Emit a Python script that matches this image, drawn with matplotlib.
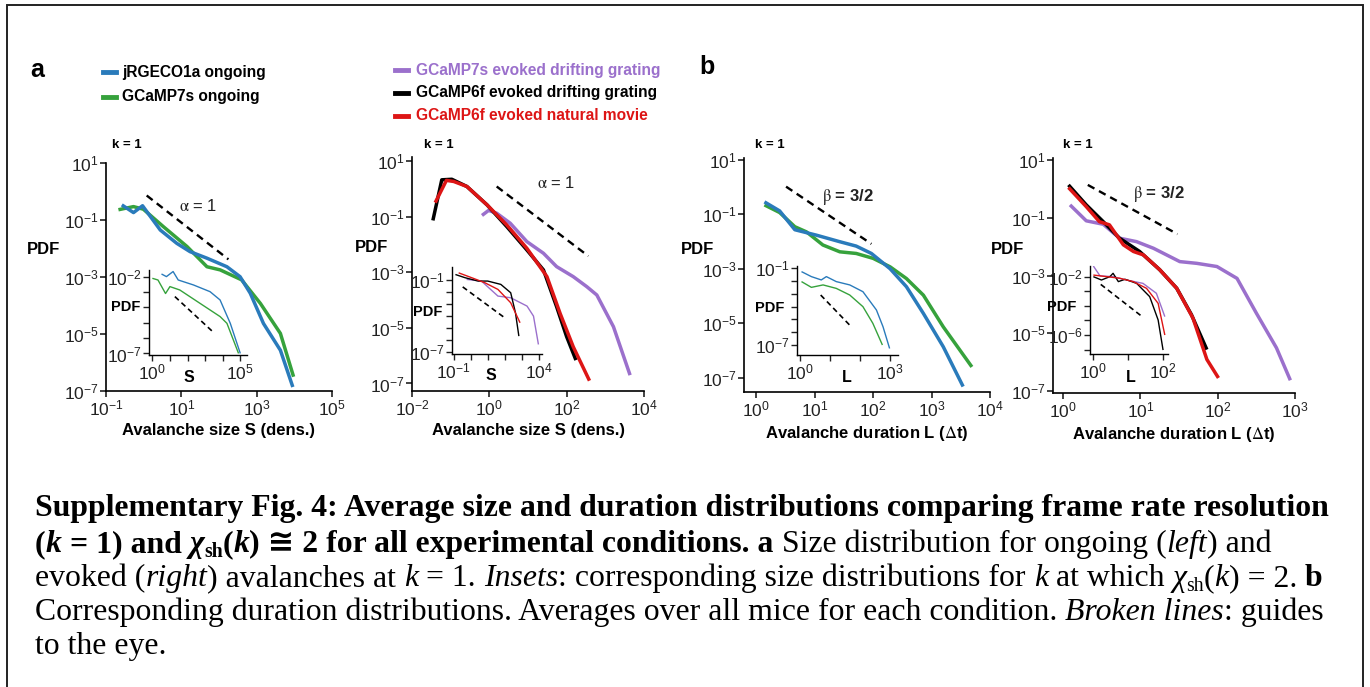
import numpy as np
import matplotlib.pyplot as plt
from matplotlib.lines import Line2D
from matplotlib.patches import Rectangle

plt.rcParams['font.family'] = ['Liberation Sans', 'DejaVu Sans']
plt.rcParams['mathtext.fontset'] = 'custom'
plt.rcParams['mathtext.rm'] = 'Liberation Sans'
plt.rcParams['mathtext.it'] = 'Liberation Sans:italic'
plt.rcParams['mathtext.bf'] = 'Liberation Sans:bold'

W, H = 1370, 687
SANS = ['Liberation Sans', 'DejaVu Sans']
SERIF = ['Liberation Serif', 'DejaVu Sans', 'DejaVu Serif']

BLUE = '#2a7bbb'
GREEN = '#36a23c'
PURPLE = '#9b70cc'
RED = '#dd1515'
BLACK = '#000000'

# all curve values are log10 of the plotted quantity

# a (left): size, ongoing, k = 1
a_blue_x = [-0.58, -0.27, -0.03, 0.44, 0.88, 1.23, 1.68, 2.21, 2.56, 2.83, 3.18, 3.63, 3.96]
a_blue_y = [-0.47, -0.74, -0.50, -1.35, -1.82, -2.11, -2.34, -2.64, -2.99, -3.57, -4.63, -5.57, -6.86]
a_green_x = [-0.67, -0.27, -0.01, 0.52, 1.15, 1.68, 2.03, 2.60, 3.10, 3.63, 3.98]
a_green_y = [-0.64, -0.53, -0.62, -1.23, -1.93, -2.64, -2.75, -3.10, -3.93, -4.98, -6.50]
a_guide_x = [0.08, 2.25]
a_guide_y = [-0.14, -2.38]
# a (left) inset
ia_blue_x = [0.52, 0.80, 1.18, 1.47, 2.33, 3.28, 3.85, 4.43, 5.00]
ia_blue_y = [-1.83, -2.00, -1.67, -2.22, -2.54, -2.98, -3.52, -5.04, -7.00]
ia_green_x = [0.00, 0.32, 0.75, 1.00, 1.56, 2.71, 3.85, 4.24, 4.90]
ia_green_y = [-2.11, -2.22, -3.10, -2.65, -2.87, -3.74, -4.60, -5.04, -7.00]
ia_guide_x = [1.28, 3.43]
ia_guide_y = [-3.30, -5.58]

# a (right): size, evoked, k = 1
b_black_x = [-1.46, -1.23, -0.97, -0.58, -0.06, 0.45, 0.97, 1.40, 1.74, 2.00, 2.24]
b_black_y = [-1.14, 0.32, 0.34, 0.08, -0.58, -1.36, -2.20, -2.92, -4.24, -5.32, -6.16]
b_red_x = [-1.40, -1.11, -0.92, -0.58, -0.06, 0.45, 0.97, 1.49, 1.83, 2.17, 2.59]
b_red_y = [-0.50, 0.30, 0.26, 0.08, -0.58, -1.30, -2.14, -3.16, -4.48, -5.68, -6.90]
b_purple_x = [-0.19, -0.02, 0.19, 0.54, 0.97, 1.40, 1.74, 2.17, 2.52, 2.78, 3.21, 3.64]
b_purple_y = [-0.96, -0.78, -0.88, -1.24, -1.90, -2.32, -2.80, -3.16, -3.52, -3.82, -4.96, -6.70]
b_guide_x = [0.19, 2.56]
b_guide_y = [0.08, -2.42]
ib_black_x = [-0.90, -0.33, 0.44, 1.00, 1.77, 2.35, 2.63, 2.83]
ib_black_y = [-0.53, -0.80, -1.08, -1.08, -1.36, -2.06, -3.74, -5.70]
ib_red_x = [-0.71, 0.06, 0.83, 1.60, 2.35, 2.90]
ib_red_y = [-0.39, -0.80, -1.22, -1.78, -2.90, -4.58]
ib_purple_x = [-0.24, 0.63, 1.60, 2.35, 3.31, 3.69, 3.98]
ib_purple_y = [-0.94, -1.08, -2.34, -2.48, -3.18, -4.02, -6.40]
ib_guide_x = [-0.47, 1.92]
ib_guide_y = [-1.57, -4.08]

# b (left): duration, ongoing
c_blue_x = [0.14, 0.40, 0.66, 1.03, 1.43, 1.71, 1.97, 2.29, 2.57, 2.86, 3.20, 3.54]
c_blue_y = [-0.55, -0.88, -1.57, -1.77, -2.01, -2.17, -2.44, -3.00, -3.66, -4.64, -5.86, -7.32]
c_green_x = [0.14, 0.40, 0.66, 0.86, 1.14, 1.43, 1.71, 2.00, 2.29, 2.57, 2.86, 3.20, 3.69]
c_green_y = [-0.66, -0.94, -1.46, -1.65, -2.13, -2.38, -2.44, -2.62, -2.93, -3.36, -3.97, -5.13, -6.60]
c_guide_x = [0.51, 1.97]
c_guide_y = [0.01, -2.09]
ic_blue_x = [0.06, 0.39, 0.72, 0.89, 1.22, 1.67, 2.11, 2.56, 2.78, 3.00]
ic_blue_y = [-1.26, -1.65, -1.91, -1.65, -2.04, -2.30, -2.83, -4.26, -5.57, -7.27]
ic_green_x = [0.06, 0.39, 0.78, 1.22, 1.67, 2.11, 2.44, 2.76]
ic_green_y = [-2.04, -2.49, -2.30, -2.57, -3.09, -4.00, -5.30, -7.00]
ic_guide_x = [0.70, 1.72]
ic_guide_y = [-3.09, -5.57]

# b (right): duration, evoked
d_black_x = [0.07, 0.30, 0.52, 0.73, 0.99, 1.25, 1.47, 1.66, 1.86]
d_black_y = [0.13, -0.56, -1.14, -1.71, -2.17, -2.80, -3.44, -4.35, -5.56]
d_red_x = [0.07, 0.30, 0.47, 0.60, 0.78, 0.91, 1.04, 1.25, 1.47, 1.68, 1.86, 2.01]
d_red_y = [0.04, -0.62, -1.14, -1.25, -1.94, -2.17, -2.29, -2.80, -3.44, -4.47, -5.90, -6.54]
d_purple_x = [0.09, 0.30, 0.52, 0.73, 0.95, 1.17, 1.51, 1.73, 1.99, 2.25, 2.50, 2.76, 2.94]
d_purple_y = [-0.56, -1.11, -1.23, -1.71, -1.83, -2.06, -2.52, -2.58, -2.69, -3.10, -4.30, -5.50, -6.62]
d_guide_x = [0.32, 1.48]
d_guide_y = [0.13, -1.57]
id_purple_x = [0.02, 0.21, 0.58, 0.96, 1.43, 1.81, 2.05]
id_purple_y = [-1.27, -1.95, -2.00, -2.23, -2.46, -3.14, -4.74]
id_black_x = [0.02, 0.25, 0.49, 0.58, 0.73, 0.92, 1.25, 1.62, 1.86, 2.00]
id_black_y = [-2.00, -2.23, -2.00, -1.77, -2.34, -2.18, -2.46, -3.37, -4.97, -7.03]
id_red_x = [0.02, 0.40, 0.77, 1.15, 1.53, 1.86, 2.05]
id_red_y = [-1.89, -2.00, -2.11, -2.34, -2.80, -3.83, -6.00]
id_guide_x = [0.23, 1.37]
id_guide_y = [-2.53, -4.67]

legend_a = ['jRGECO1a ongoing', 'GCaMP7s ongoing']
legend_b = ['GCaMP7s evoked drifting grating', 'GCaMP6f evoked drifting grating',
            'GCaMP6f evoked natural movie']


fig = plt.figure(figsize=(W / 100, H / 100), dpi=100)
fig.patch.set_facecolor('white')


def px_axes(l, t, r, b):
    return fig.add_axes([l / W, 1 - b / H, (r - l) / W, (b - t) / H])


def ftext(x, y, s, **kw):
    return fig.text(x / W, 1 - y / H, s, **kw)


def fmt(e):
    return r'$\mathdefault{10^{%d}}$' % e


def setup(ax, xlim, ylim, xt, xl, yt, yl, size=12.5, lw=1.2):
    ax.set_xscale('log')
    ax.set_yscale('log')
    ax.set_xlim(10.0 ** xlim[0], 10.0 ** xlim[1])
    ax.set_ylim(10.0 ** ylim[0], 10.0 ** ylim[1])
    ax.set_xticks([10.0 ** e for e in xt])
    ax.set_xticklabels([fmt(e) if e in xl else '' for e in xt])
    ax.set_yticks([10.0 ** e for e in yt])
    ax.set_yticklabels([fmt(e) if e in yl else '' for e in yt])
    ax.minorticks_off()
    for s in ['top', 'right']:
        ax.spines[s].set_visible(False)
    for s in ['left', 'bottom']:
        ax.spines[s].set_linewidth(lw)
    ax.tick_params(length=4, width=lw, labelsize=size, pad=1.5, colors='#222222')
    ax.patch.set_alpha(0)


def curve(ax, x, y, c, lw=2.5):
    ax.plot(10.0 ** np.array(x), 10.0 ** np.array(y), color=c, lw=lw,
            solid_joinstyle='round', solid_capstyle='butt')


def guide(ax, x, y, lw=1.7):
    ax.plot(10.0 ** np.array(x), 10.0 ** np.array(y), color='black', lw=lw,
            ls=(0, (3.2, 2.2)))


def slope_label(ax, x, y, s, bold):
    ax.text(10.0 ** x, 10.0 ** y, s, fontsize=12, math_fontfamily='stix',
            weight='bold' if bold else 'normal', ha='center', va='center', color='#222222')


XLAB = dict(weight='bold', fontsize=12, labelpad=3, math_fontfamily='stix')

# ---- panel a left
ax1 = px_axes(106, 163, 332, 391)
setup(ax1, (-1, 5), (-7, 1), [-1, 1, 3, 5], [-1, 1, 3, 5], [1, -1, -3, -5, -7], [1, -1, -3, -5, -7])
curve(ax1, a_green_x, a_green_y, GREEN)
curve(ax1, a_blue_x, a_blue_y, BLUE)
guide(ax1, a_guide_x, a_guide_y)
slope_label(ax1, 1.46, -0.52, r'$\mathrm{\alpha}$ = 1', False)
ax1.set_xlabel('Avalanche size S (dens.)', **XLAB)

in1 = px_axes(149, 270, 247, 355)
setup(in1, (-0.19, 5.38), (-7.1, -1.57), [0, 1, 2, 3, 4, 5], [0, 5], [-2, -3, -4, -5, -6, -7], [-2, -7], lw=1.0)
curve(in1, ia_green_x, ia_green_y, GREEN, lw=1.0)
curve(in1, ia_blue_x, ia_blue_y, BLUE, lw=1.0)
guide(in1, ia_guide_x, ia_guide_y, lw=1.2)

# ---- panel a right
ax2 = px_axes(412, 157, 644, 391)
setup(ax2, (-2, 4), (-7.27, 1.14), [-2, 0, 2, 4], [-2, 0, 2, 4], [1, -1, -3, -5, -7], [1, -1, -3, -5, -7])
curve(ax2, b_purple_x, b_purple_y, PURPLE)
curve(ax2, b_black_x, b_black_y, BLACK)
curve(ax2, b_red_x, b_red_y, RED)
guide(ax2, b_guide_x, b_guide_y)
slope_label(ax2, 1.73, 0.20, r'$\mathrm{\alpha}$ = 1', False)
ax2.set_xlabel('Avalanche size S (dens.)', **XLAB)

in2 = px_axes(452, 267, 542, 354)
setup(in2, (-1.1, 4.19), (-7.2, 0.1), [-1, 0, 1, 2, 3, 4], [-1, 4], [-1, -2, -3, -4, -5, -6, -7], [-1, -7], lw=1.0)
curve(in2, ib_purple_x, ib_purple_y, PURPLE, lw=1.0)
curve(in2, ib_black_x, ib_black_y, BLACK, lw=1.0)
curve(in2, ib_red_x, ib_red_y, RED, lw=1.0)
guide(in2, ib_guide_x, ib_guide_y, lw=1.2)

# ---- panel b left
ax3 = px_axes(744, 158, 990, 392)
setup(ax3, (-0.21, 4), (-7.52, 1.06), [0, 1, 2, 3, 4], [0, 1, 2, 3, 4], [1, -1, -3, -5, -7], [1, -1, -3, -5, -7])
curve(ax3, c_green_x, c_green_y, GREEN)
curve(ax3, c_blue_x, c_blue_y, BLUE)
guide(ax3, c_guide_x, c_guide_y)
slope_label(ax3, 1.57, -0.36, r'$\mathrm{\beta}$ = 3/2', True)
ax3.set_xlabel(r'Avalanche duration L ($\Delta$t)', **XLAB)

in3 = px_axes(797, 266, 898, 355)
setup(in3, (-0.09, 3.28), (-7.78, -0.82), [0, 1, 2, 3], [0, 3], [-1, -2, -3, -4, -5, -6, -7], [-1, -7], lw=1.0)
curve(in3, ic_green_x, ic_green_y, GREEN, lw=1.0)
curve(in3, ic_blue_x, ic_blue_y, BLUE, lw=1.0)
guide(in3, ic_guide_x, ic_guide_y, lw=1.2)

# ---- panel b right
ax4 = px_axes(1053, 158, 1295, 393)
setup(ax4, (-0.13, 3.0), (-7.06, 1.06), [0, 1, 2, 3], [0, 1, 2, 3], [1, -1, -3, -5, -7], [1, -1, -3, -5, -7])
curve(ax4, d_purple_x, d_purple_y, PURPLE)
curve(ax4, d_black_x, d_black_y, BLACK)
curve(ax4, d_red_x, d_red_y, RED)
guide(ax4, d_guide_x, d_guide_y)
slope_label(ax4, 1.24, -0.19, r'$\mathrm{\beta}$ = 3/2', True)
ax4.set_xlabel(r'Avalanche duration L ($\Delta$t)', **XLAB)

in4 = px_axes(1090, 266, 1168, 354)
setup(in4, (-0.075, 2.14), (-7.3, -1.27), [0, 1, 2], [0, 2], [-2, -3, -4, -5, -6, -7], [-2, -6], lw=1.0)
curve(in4, id_purple_x, id_purple_y, PURPLE, lw=1.0)
curve(in4, id_black_x, id_black_y, BLACK, lw=1.0)
curve(in4, id_red_x, id_red_y, RED, lw=1.0)
guide(in4, id_guide_x, id_guide_y, lw=1.2)

# ---- labels around the axes
for x, y in [(127, 145), (439, 145), (770, 145), (1078, 145)]:
    ftext(x, y, 'k = 1', weight='bold', fontsize=9.5, ha='center', va='center')
for x, y in [(43, 250), (372, 248), (698, 249), (1008, 249)]:
    ftext(x, y, 'PDF', weight='bold', fontsize=12, ha='center', va='center')
for x, y in [(126, 307), (428, 312), (770, 308), (1062, 307)]:
    ftext(x, y, 'PDF', weight='bold', fontsize=10.5, ha='center', va='center')
for x, y, s in [(189, 378, 'S'), (491, 376, 'S'), (847, 378, 'L'), (1131, 378, 'L')]:
    ftext(x, y, s, weight='bold', fontsize=11.5, ha='center', va='center')

ftext(37, 70, 'a', weight='bold', fontsize=18, ha='center', va='center')
ftext(707, 67, 'b', weight='bold', fontsize=18, ha='center', va='center')

# legends
for (txt, c, y) in zip(legend_a, [BLUE, GREEN], [72, 97]):
    fig.add_artist(Line2D([103 / W, 116 / W], [1 - y / H, 1 - y / H], color=c, lw=3.5,
                          transform=fig.transFigure))
    ftext(122, y, txt, weight='bold', fontsize=11.2, ha='left', va='center', color='black')
for (txt, c, y) in zip(legend_b, [PURPLE, BLACK, RED], [70, 93, 116]):
    fig.add_artist(Line2D([395 / W, 408 / W], [1 - y / H, 1 - y / H], color=c, lw=3.5,
                          transform=fig.transFigure))
    ftext(416, y, txt, weight='bold', fontsize=11.2, ha='left', va='center', color=c)

# frame
fig.add_artist(Rectangle((7 / W, -0.02), 1356 / W, 1 - 5 / H + 0.02, fill=False, lw=1.4,
                         ec='#222222', transform=fig.transFigure))

# ---- caption with mixed styles
renderer = fig.canvas.get_renderer()
CAP = 22.9


def seg_width(s, **kw):
    t = fig.text(0, 0, '|' + s + '|', **kw)
    w1 = t.get_window_extent(renderer).width
    t.set_text('||')
    w0 = t.get_window_extent(renderer).width
    t.remove()
    return w1 - w0


def rich_line(x, y, parts):
    for p in parts:
        s, wt, st = p[0], p[1], p[2]
        scale = p[3] if len(p) > 3 else 1.0
        dy = p[4] if len(p) > 4 else 0
        kw = dict(family=SERIF, fontsize=CAP * scale, weight=wt, style=st)
        ftext(x, y + dy, s, va='baseline', ha='left', **kw)
        x += seg_width(s, **kw)


B, N, I, BI = ('bold', 'normal'), ('normal', 'normal'), ('normal', 'italic'), ('bold', 'italic')
cap_lines = [
    [('Supplementary Fig. 4: Average size and duration distributions comparing frame rate resolution',) + B],
    [('(',) + B, ('k',) + BI, (' = 1) and ',) + B, ('χ',) + BI, ('sh',) + B + (0.62, 5), ('(',) + B,
     ('k',) + BI, (') ≅ 2 for all experimental conditions. a ',) + B,
     ('Size distribution for ongoing (',) + N, ('left',) + I, (') and',) + N],
    [('evoked (',) + N, ('right',) + I, (') avalanches at ',) + N, ('k',) + I, (' = 1. ',) + N,
     ('Insets',) + I, (': corresponding size distributions for ',) + N, ('k',) + I,
     (' at which ',) + N, ('χ',) + I, ('sh',) + N + (0.62, 5), ('(',) + N, ('k',) + I,
     (') = 2. ',) + N, ('b',) + B],
    [('Corresponding duration distributions. Averages over all mice for each condition. ',) + N,
     ('Broken lines',) + I, (': guides',) + N],
    [('to the eye.',) + N],
]
for line, yb in zip(cap_lines, [516, 552, 586, 620, 654]):
    rich_line(35, yb, line)

fig.savefig('out.png', dpi=100)
